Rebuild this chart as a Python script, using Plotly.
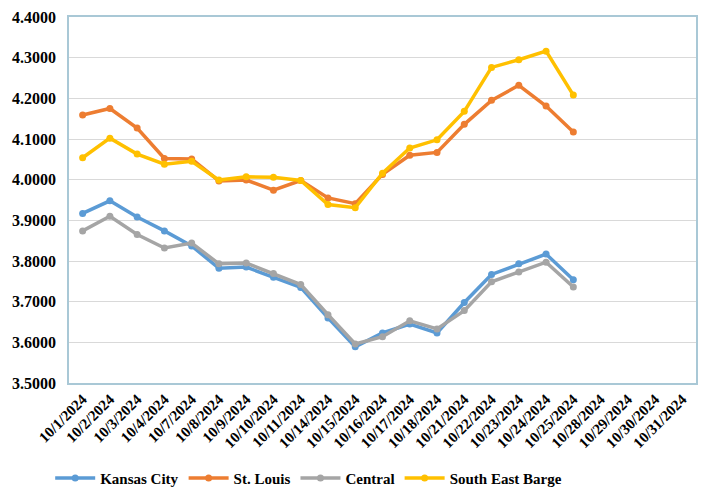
import plotly.graph_objects as go

dates = ["10/1/2024", "10/2/2024", "10/3/2024", "10/4/2024", "10/7/2024", "10/8/2024",
         "10/9/2024", "10/10/2024", "10/11/2024", "10/14/2024", "10/15/2024", "10/16/2024",
         "10/17/2024", "10/18/2024", "10/21/2024", "10/22/2024", "10/23/2024", "10/24/2024",
         "10/25/2024", "10/28/2024", "10/29/2024", "10/30/2024", "10/31/2024"]

kansas_city = [3.917, 3.948, 3.908, 3.874, 3.837, 3.782, 3.785, 3.760, 3.735, 3.660,
               3.589, 3.623, 3.645, 3.623, 3.698, 3.767, 3.793, 3.817, 3.754]
st_louis = [4.159, 4.175, 4.127, 4.052, 4.051, 3.997, 3.999, 3.974, 3.998, 3.955,
            3.941, 4.013, 4.060, 4.067, 4.136, 4.195, 4.232, 4.181, 4.117]
central = [3.874, 3.910, 3.865, 3.832, 3.844, 3.793, 3.795, 3.769, 3.742, 3.668,
           3.596, 3.614, 3.653, 3.633, 3.678, 3.749, 3.773, 3.797, 3.736]
south_east_barge = [4.054, 4.102, 4.063, 4.038, 4.045, 3.999, 4.007, 4.006, 3.998, 3.939,
                    3.931, 4.016, 4.078, 4.098, 4.168, 4.276, 4.295, 4.316, 4.208]

series = [
    ("Kansas City", kansas_city, "#5b9bd5"),
    ("St. Louis", st_louis, "#ed7d31"),
    ("Central", central, "#a5a5a5"),
    ("South East Barge", south_east_barge, "#ffc000"),
]

serif = "Liberation Serif, Times New Roman, serif"

fig = go.Figure()
for name, vals, color in series:
    y = vals + [None] * (len(dates) - len(vals))
    fig.add_trace(go.Scatter(
        x=dates, y=y, name=name, mode="lines+markers",
        line=dict(color=color, width=3.5),
        marker=dict(color=color, size=7, symbol="circle"),
    ))

fig.update_layout(
    width=705, height=493,
    margin=dict(l=61, r=17, t=9, b=118, autoexpand=False),
    paper_bgcolor="white", plot_bgcolor="white",
    showlegend=True,
    legend=dict(orientation="h", x=-0.03, xanchor="left", y=-0.26, yanchor="middle",
                font=dict(family=serif, size=15, color="black", weight="bold"),
                itemwidth=40, tracegroupgap=0),
    font=dict(family=serif, color="black"),
)
fig.update_xaxes(
    type="category", categoryorder="array", categoryarray=dates,
    tickangle=-45, tickfont=dict(family=serif, size=15, color="black", weight="bold"),
    showgrid=False, showline=True, linecolor="#a9c8d6", linewidth=1.5, mirror=True,
    ticks="", range=[-0.5, len(dates) - 0.5], automargin=False,
)
fig.update_yaxes(
    range=[3.5, 4.4], dtick=0.1, tickformat=".4f",
    tickfont=dict(family=serif, size=16, color="black", weight="bold"),
    showgrid=True, gridcolor="#d9d9d9", gridwidth=1,
    showline=True, linecolor="#a9c8d6", linewidth=1.5, mirror=True,
    zeroline=False, ticks="", ticklabelstandoff=8, automargin=False,
)

fig.write_html("out.html")
